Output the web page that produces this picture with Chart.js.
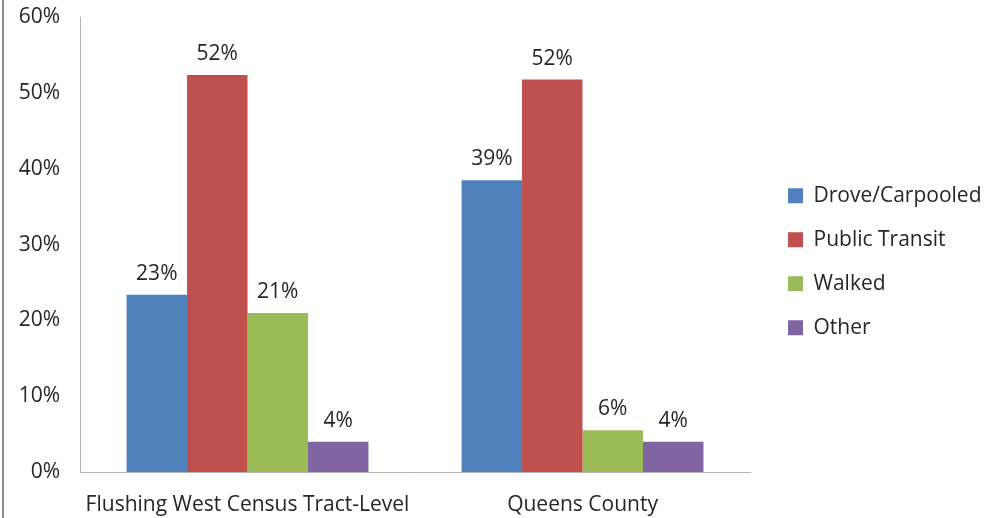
<!DOCTYPE html>
<html>
<head>
<meta charset="utf-8">
<script src="https://cdn.jsdelivr.net/npm/chart.js@4/dist/chart.umd.min.js"></script>
<style>
  html, body { margin: 0; padding: 0; background: #fff; }
  #wrap { width: 997px; height: 518px; position: relative; }
</style>
</head>
<body>
<div id="wrap"><canvas id="c" width="997" height="518"></canvas></div>
<script>
const categories = ['Flushing West Census Tract-Level', 'Queens County'];
const seriesNames = ['Drove/Carpooled', 'Public Transit', 'Walked', 'Other'];
const droveCarpooled = [23.4, 38.5];
const publicTransit = [52.4, 51.8];
const walked = [21.0, 5.5];
const other = [4.0, 4.0];
const yTicks = [0, 10, 20, 30, 40, 50, 60];
const colors = ['#4F81BD', '#C0504D', '#9BBB59', '#8064A2'];

const FONT = "'Open Sans', sans-serif";
const TEXT = '#262626';

const valueLabels = {
  id: 'valueLabels',
  afterDatasetsDraw(chart) {
    const ctx = chart.ctx;
    ctx.save();
    ctx.font = '21px ' + FONT;
    ctx.fillStyle = TEXT;
    ctx.textAlign = 'center';
    ctx.textBaseline = 'alphabetic';
    chart.data.datasets.forEach((ds, i) => {
      const meta = chart.getDatasetMeta(i);
      meta.data.forEach((bar, j) => {
        ctx.fillText(Math.round(ds.data[j]) + '%', bar.x, bar.y - 15);
      });
    });
    ctx.restore();
  }
};

const leftBorder = {
  id: 'leftBorder',
  beforeDraw(chart) {
    const ctx = chart.ctx;
    ctx.save();
    ctx.fillStyle = '#fff';
    ctx.fillRect(0, 0, chart.width, chart.height);
    ctx.fillStyle = '#8c8c8c';
    ctx.fillRect(2, 0, 2, chart.height);
    ctx.restore();
  }
};

const seriesData = [droveCarpooled, publicTransit, walked, other];

new Chart(document.getElementById('c'), {
  type: 'bar',
  data: {
    labels: categories,
    datasets: seriesNames.map((name, i) => ({
      label: name,
      data: seriesData[i],
      backgroundColor: colors[i],
      borderWidth: 0,
      barPercentage: 1.0,
      categoryPercentage: 0.722
    }))
  },
  options: {
    responsive: false,
    animation: false,
    layout: { padding: { top: 5.5, left: 0, right: 5.5, bottom: 0 } },
    plugins: {
      tooltip: { enabled: false },
      legend: {
        position: 'right',
        align: 'center',
        maxWidth: 300,
        labels: {
          boxWidth: 15,
          boxHeight: 15,
          padding: 23,
          color: TEXT,
          font: { family: FONT, size: 21 }
        }
      }
    },
    scales: {
      x: {
        grid: { display: false, drawTicks: false },
        border: { display: true, color: '#b3b3b3', width: 1 },
        ticks: { color: TEXT, font: { family: FONT, size: 21 }, padding: 20, maxRotation: 0, autoSkip: false },
        afterFit(s) { s.height = 46; s.paddingLeft = 0; s.paddingRight = 0; }
      },
      y: {
        min: 0,
        max: 60,
        grid: { display: false, drawTicks: false },
        border: { display: true, color: '#b3b3b3', width: 1 },
        afterBuildTicks(s) { s.ticks = yTicks.map(v => ({ value: v })); },
        ticks: {
          color: TEXT,
          font: { family: FONT, size: 21 },
          padding: 20,
          callback: v => v + '%'
        },
        afterFit(s) { s.width = 80; s.paddingTop = 17.5; s.paddingBottom = 0; }
      },
      gap: {
        position: 'right',
        display: true,
        grid: { display: false, drawTicks: false },
        border: { display: false },
        ticks: { display: false },
        afterFit(s) { s.width = 15; s.paddingTop = 0; s.paddingBottom = 0; }
      }
    }
  },
  plugins: [leftBorder, valueLabels]
});
</script>
</body>
</html>
